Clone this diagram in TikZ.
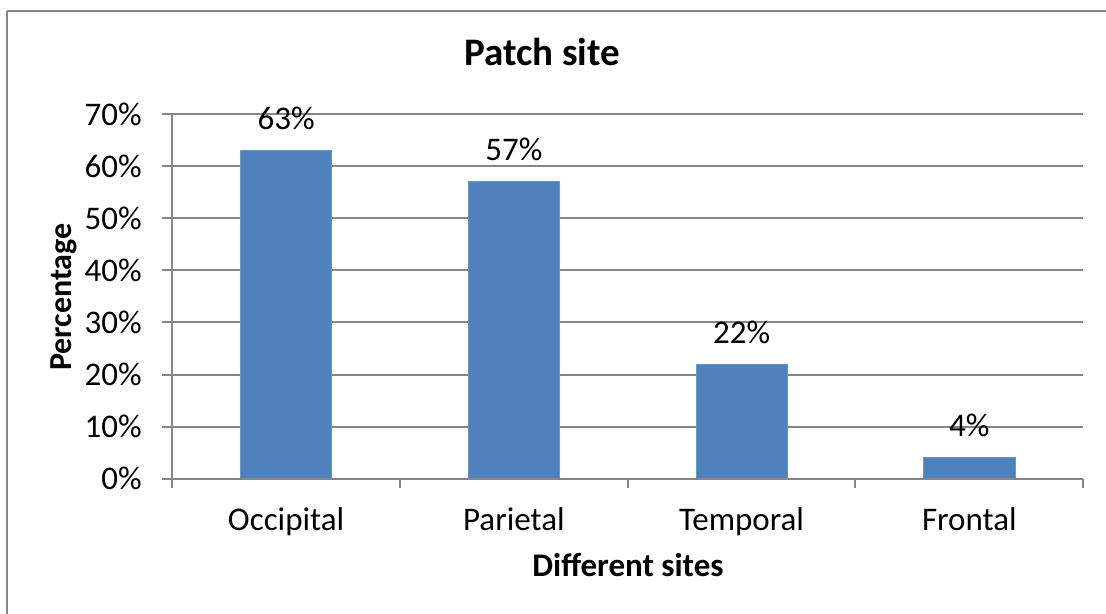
\documentclass[tikz,border=0pt]{standalone}
\usepackage{fontspec}
\setmainfont{Carlito}
\definecolor{barblue}{RGB}{79,129,189}
\definecolor{gridgray}{RGB}{134,134,134}
\tikzset{
  gridline/.style={draw=gridgray,line width=1pt},
  bar/.style={fill=barblue,draw=barblue!85!white,line width=0.4pt},
  ticklabel/.style={font=\fontsize{16.5}{19}\selectfont,inner sep=0pt},
  axistitle/.style={font=\fontsize{16.5}{19}\selectfont\bfseries,inner sep=0pt},
}
\begin{document}
\begin{tikzpicture}[x=0.5pt,y=-0.5pt]
\useasboundingbox (0,0) rectangle (1106,614);

% chart frame
\draw[gridline] (7,11) -- (1112,11);
\draw[gridline] (7,11) -- (7,620);

% title
\node[anchor=base,font=\fontsize{19.5}{23}\selectfont\bfseries,inner sep=0pt] (title) at (542,65.7) {Patch site};

% grid and y labels
\foreach \v in {0,10,...,70}
{
\draw[gridline] (162,478.7-5.21*\v) -- (1083,478.7-5.21*\v);
\node[ticklabel,anchor=east] (y\v) at (142,478.7-5.21*\v) {\v\%};
}

% bars
\foreach \i/\v/\name in {0/63/Occipital,1/57/Parietal,2/22/Temporal,3/4/Frontal}
{
\fill[bar] (240.6+227.75*\i,478.7) rectangle (331.7+227.75*\i,478.7-5.21*\v);
\node[ticklabel,anchor=base] (val\i) at (286.1+227.75*\i,457.7-5.21*\v) {\v\%};
\node[ticklabel,anchor=base] (cat\i) at (286.1+227.75*\i,530) {\name};
}

% axes
\draw[gridline] (172,114) -- (172,478.7);
\draw[gridline] (162,478.7) -- (1083,478.7);
\foreach \i in {0,...,4}
\draw[gridline] (172+227.75*\i,478.7) -- (172+227.75*\i,488);

% axis titles
\node[axistitle,anchor=base] (xtitle) at (628,576) {Different sites};
\node[axistitle,anchor=base,rotate=90,font=\fontsize{16}{19}\selectfont\bfseries] (ytitle) at (71,297) {Percentage};
\end{tikzpicture}
\end{document}
